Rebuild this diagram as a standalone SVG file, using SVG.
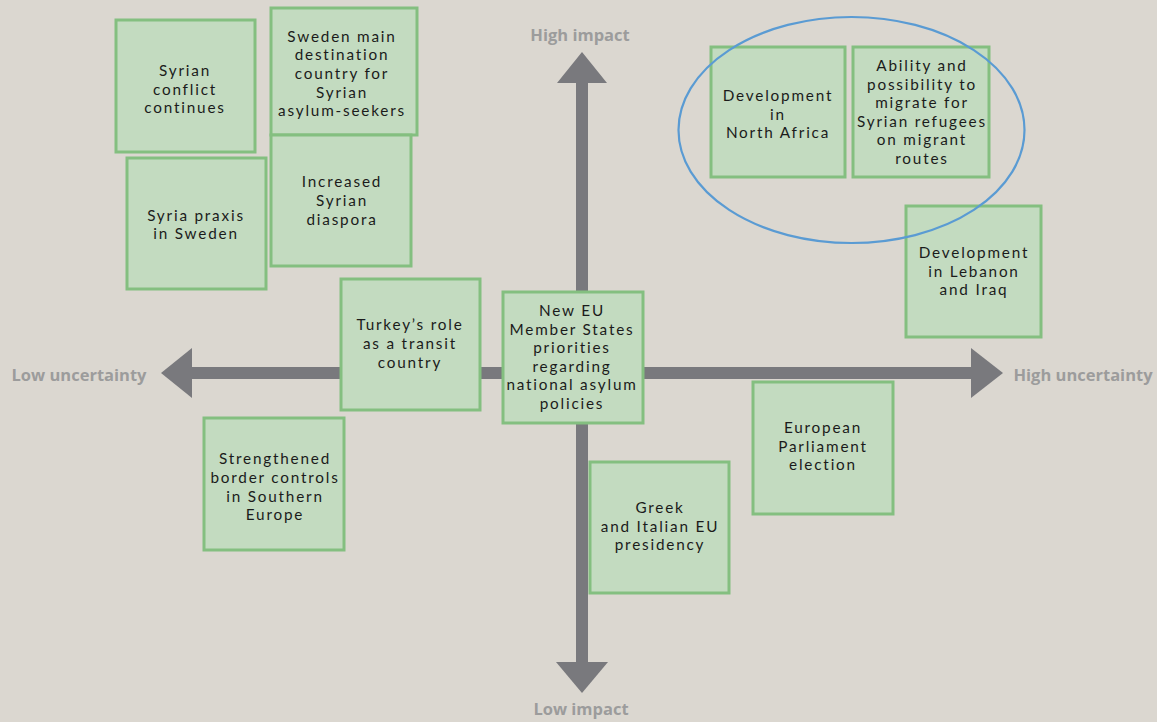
<svg xmlns="http://www.w3.org/2000/svg" width="1157" height="722" viewBox="0 0 1157 722">
<style>
.box{fill:#c3dbc0;stroke:#84bf80;stroke-width:3}
.t{font-family:Lato,"Liberation Sans",sans-serif;font-size:15.3px;letter-spacing:1.8px;fill:#1b1b1b;text-anchor:middle}
.ax{font-family:"Open Sans","Liberation Sans",sans-serif;font-size:16.5px;font-weight:bold;fill:#9c9c9c;text-anchor:middle}
.arrow{fill:#79797d}
</style>
<rect width="1157" height="722" fill="#dbd7d0"/>
<g id="axes">
<rect class="arrow" x="191" y="367" width="781" height="12"/>
<polygon class="arrow" points="161,373 192,348 192,398"/>
<polygon class="arrow" points="1003,373 971,348 971,398"/>
<rect class="arrow" x="576" y="82" width="12" height="581"/>
<polygon class="arrow" points="582,52 557,83 607,83"/>
<polygon class="arrow" points="582,693 556,662 608,662"/>
<text class="ax" x="580" y="41">High impact</text>
<text class="ax" x="581" y="715">Low impact</text>
<text class="ax" x="79" y="381">Low uncertainty</text>
<text class="ax" x="1083" y="381">High uncertainty</text>
</g>
<g id="n1"><rect class="box" x="116" y="20" width="139" height="132"/>
<text class="t"><tspan x="185" y="76">Syrian</tspan><tspan x="185" y="95">conflict</tspan><tspan x="185" y="113">continues</tspan></text></g>
<g id="n2"><rect class="box" x="271" y="8" width="146" height="127"/>
<text class="t"><tspan x="342" y="42">Sweden main</tspan><tspan x="342" y="60">destination</tspan><tspan x="342" y="79">country for</tspan><tspan x="342" y="98">Syrian</tspan><tspan x="342" y="116">asylum-seekers</tspan></text></g>
<g id="n3"><rect class="box" x="127" y="158" width="139" height="131"/>
<text class="t"><tspan x="196" y="221">Syria praxis</tspan><tspan x="196" y="239">in Sweden</tspan></text></g>
<g id="n4"><rect class="box" x="271" y="135" width="140" height="131"/>
<text class="t"><tspan x="342" y="187">Increased</tspan><tspan x="342" y="206">Syrian</tspan><tspan x="342" y="225">diaspora</tspan></text></g>
<g id="n5"><rect class="box" x="341" y="279" width="139" height="131"/>
<text class="t"><tspan x="410" y="330">Turkey’s role</tspan><tspan x="410" y="349">as a transit</tspan><tspan x="410" y="368">country</tspan></text></g>
<g id="n6"><rect class="box" x="503" y="292" width="140" height="131"/>
<text class="t"><tspan x="572" y="316">New EU</tspan><tspan x="572" y="334.5">Member States</tspan><tspan x="572" y="353">priorities</tspan><tspan x="572" y="371.5">regarding</tspan><tspan x="572" y="390">national asylum</tspan><tspan x="572" y="408.5">policies</tspan></text></g>
<g id="n7"><rect class="box" x="204" y="418" width="140" height="132"/>
<text class="t"><tspan x="275" y="464">Strengthened</tspan><tspan x="275" y="483">border controls</tspan><tspan x="275" y="501.5">in Southern</tspan><tspan x="275" y="520">Europe</tspan></text></g>
<g id="n8"><rect class="box" x="590" y="462" width="139" height="131"/>
<text class="t"><tspan x="660" y="513">Greek</tspan><tspan x="660" y="531.5">and Italian EU</tspan><tspan x="660" y="550">presidency</tspan></text></g>
<g id="n9"><rect class="box" x="753" y="382" width="140" height="132"/>
<text class="t"><tspan x="823" y="433">European</tspan><tspan x="823" y="451.5">Parliament</tspan><tspan x="823" y="470">election</tspan></text></g>
<g id="n10"><rect class="box" x="711" y="47" width="134" height="130"/>
<text class="t"><tspan x="778" y="101">Development</tspan><tspan x="778" y="119.5">in</tspan><tspan x="778" y="138">North Africa</tspan></text></g>
<g id="n11"><rect class="box" x="853" y="47" width="136" height="130"/>
<text class="t"><tspan x="922" y="71">Ability and</tspan><tspan x="922" y="89.5">possibility to</tspan><tspan x="922" y="108">migrate for</tspan><tspan x="922" y="126.5">Syrian refugees</tspan><tspan x="922" y="145">on migrant</tspan><tspan x="922" y="163.5">routes</tspan></text></g>
<g id="n12"><rect class="box" x="906" y="206" width="135" height="131"/>
<text class="t"><tspan x="974" y="258">Development</tspan><tspan x="974" y="276.5">in Lebanon</tspan><tspan x="974" y="295">and Iraq</tspan></text></g>
<g id="highlight"><ellipse cx="851.5" cy="130" rx="173" ry="113" fill="none" stroke="#5a9bd3" stroke-width="2.2"/></g>
</svg>
